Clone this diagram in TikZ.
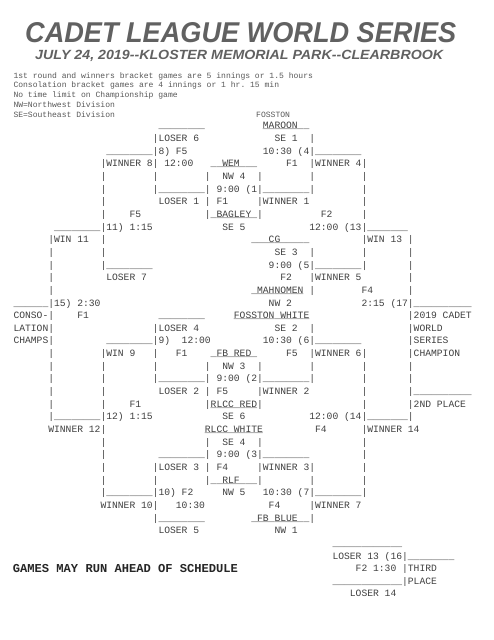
\documentclass[tikz,border=0pt]{standalone}
\usepackage{fontspec}
\newfontfamily\typefont{Liberation Mono}
\newfontfamily\titlefont{Liberation Sans}
\newcommand\us[1]{\ifnum#1>0 \char95 \expandafter\us\expandafter{\number\numexpr#1-1\relax}\fi}
\newcommand\ul[2]{\rlap{\us{#1}}#2}

\begin{document}
\begin{tikzpicture}[x=1pt, y=-1pt,
  every node/.style={inner sep=0pt, anchor=base west},
  cell/.style={font=\typefont\fontsize{9.67}{11}\selectfont, text=black!75},
  head/.style={font=\typefont\frenchspacing\fontsize{8.05}{9}\selectfont, text=black!65},
  banner/.style={font=\titlefont\bfseries\itshape, text=black!62}]
  \fill[white] (0,0) rectangle (494,640);
  \useasboundingbox (0,0) rectangle (494,640);
  \node[banner] (title) at (25,42.7) {\resizebox{431pt}{20pt}{CADET LEAGUE WORLD SERIES}};
  \node[banner] (date) at (35,59.3) {\resizebox{408pt}{9.3pt}{JULY 24, 2019-{}-KLOSTER MEMORIAL PARK-{}-CLEARBROOK}};
  \foreach \lab [count=\i] in {1st round and winners bracket games are 5 innings or 1.5 hours,
      Consolation bracket games are 4 innings or 1 hr. 15 min, No time limit on Championship game,
      NW=Northwest Division, SE=Southeast Division}
    \node[head] (rule\i) at (13.3,{78.3+9.68*(\i-1)}) {\lab};
  \node[head] (fosston) at (256,117) {FOSSTON};
  \begin{scope}[shift={(13.3pt,-128.9pt)}, x=5.8pt, y=-12.65pt]
    \foreach \cc/\rr/\lab [count=\i] in {25/0/\us{8}, 43/0/\ul{8}{MAROON},
        24/1/|LOSER 6, 45/1/SE 1, 51/1/|,
        16/2/\us{8}, 24/2/|8) F5, 43/2/10:30 (4|, 52/2/\us{8},
        15/3/|WINNER 8| 12:00, 34/3/\ul{8}{~~WEM}, 47/3/F1, 51/3/|WINNER 4|,
        15/4/|, 24/4/|, 33/4/|, 36/4/NW 4, 42/4/|, 51/4/|, 60/4/|,
        15/5/|, 24/5/|\us{8}|, 35/5/9:00 (1|, 43/5/\us{8}|, 60/5/|,
        15/6/|, 25/6/LOSER 1, 33/6/|, 35/6/F1, 42/6/|WINNER 1, 60/6/|,
        15/7/|, 20/7/F5, 33/7/|, 34/7/\ul{8}{~BAGLEY}, 42/7/|, 53/7/F2, 60/7/|,
        7/8/\us{8}, 15/8/|11) 1:15, 36/8/SE 5, 51/8/12:00 (13|, 61/8/\us{7},
        6/9/|WIN 11, 15/9/|, 41/9/\ul{10}{~~~CG}, 60/9/|WIN 13, 68/9/|,
        6/10/|, 15/10/|, 45/10/SE 3, 51/10/|, 60/10/|, 68/10/|,
        6/11/|, 15/11/|\us{8}, 44/11/9:00 (5|, 52/11/\us{8}|, 68/11/|,
        6/12/|, 16/12/LOSER 7, 46/12/F2, 51/12/|WINNER 5, 68/12/|,
        6/13/|, 41/13/\ul{9}{~MAHNOMEN}, 51/13/|, 60/13/F4, 68/13/|,
        0/14/\us{6}|15) 2:30, 44/14/NW 2, 60/14/2:15 (17|, 69/14/\us{10},
        0/15/CONSO-|, 11/15/F1, 25/15/\us{8}, 38/15/\ul{13}{FOSSTON WHITE}, 68/15/|2019 CADET,
        0/16/LATION|, 24/16/|LOSER 4, 45/16/SE 2, 51/16/|, 68/16/|WORLD,
        0/17/CHAMPS|, 16/17/\us{8}, 24/17/|9), 29/17/12:00, 43/17/10:30 (6|, 52/17/\us{8}, 68/17/|SERIES,
        6/18/|, 15/18/|WIN 9, 24/18/|, 28/18/F1, 34/18/\ul{8}{~FB RED}, 47/18/F5, 51/18/|WINNER 6|, 68/18/|CHAMPION,
        6/19/|, 15/19/|, 24/19/|, 33/19/|, 36/19/NW 3, 42/19/|, 51/19/|, 60/19/|, 68/19/|,
        6/20/|, 15/20/|, 24/20/|\us{8}|, 35/20/9:00 (2|, 43/20/\us{8}|, 60/20/|, 68/20/|,
        6/21/|, 15/21/|, 25/21/LOSER 2, 33/21/|, 35/21/F5, 42/21/|WINNER 2, 60/21/|, 68/21/|\us{10},
        6/22/|, 15/22/|, 20/22/F1, 33/22/|\ul{8}{RLCC RED}|, 60/22/|, 68/22/|2ND PLACE,
        6/23/|\us{8}|12) 1:15, 36/23/SE 6, 51/23/12:00 (14|, 61/23/\us{7}|,
        6/24/WINNER 12|, 33/24/\ul{10}{RLCC WHITE}, 52/24/F4, 60/24/|WINNER 14,
        15/25/|, 33/25/|, 36/25/SE 4, 42/25/|, 60/25/|,
        15/26/|, 25/26/\us{8}|, 35/26/9:00 (3|, 43/26/\us{8}, 60/26/|,
        15/27/|, 24/27/|LOSER 3, 33/27/|, 35/27/F4, 42/27/|WINNER 3|, 60/27/|,
        15/28/|, 24/28/|, 33/28/|\ul{8}{~~RLF~~~}|, 51/28/|, 60/28/|,
        15/29/|\us{8}|10) F2, 36/29/NW 5, 43/29/10:30 (7|\us{8}|,
        15/30/WINNER 10|, 28/30/10:30, 44/30/F4, 51/30/|WINNER 7,
        24/31/|\us{8}, 41/31/\ul{10}{~FB BLUE}, 51/31/|,
        25/32/LOSER 5, 45/32/NW 1,
        55/33/\us{12}, 55/34/LOSER 13 (16|\us{8}, 59/35/F2 1:30 |THIRD,
        55/36/\us{12}|PLACE, 58/37/LOSER 14}
      \node[cell] (b\i) at (\cc,\rr) {\lab};
  \end{scope}
  \node[cell, font=\typefont\bfseries\fontsize{12.1}{13}\selectfont, text=black!85] (games) at (12.7,572.7) {GAMES MAY RUN AHEAD OF SCHEDULE};
\end{tikzpicture}
\end{document}
